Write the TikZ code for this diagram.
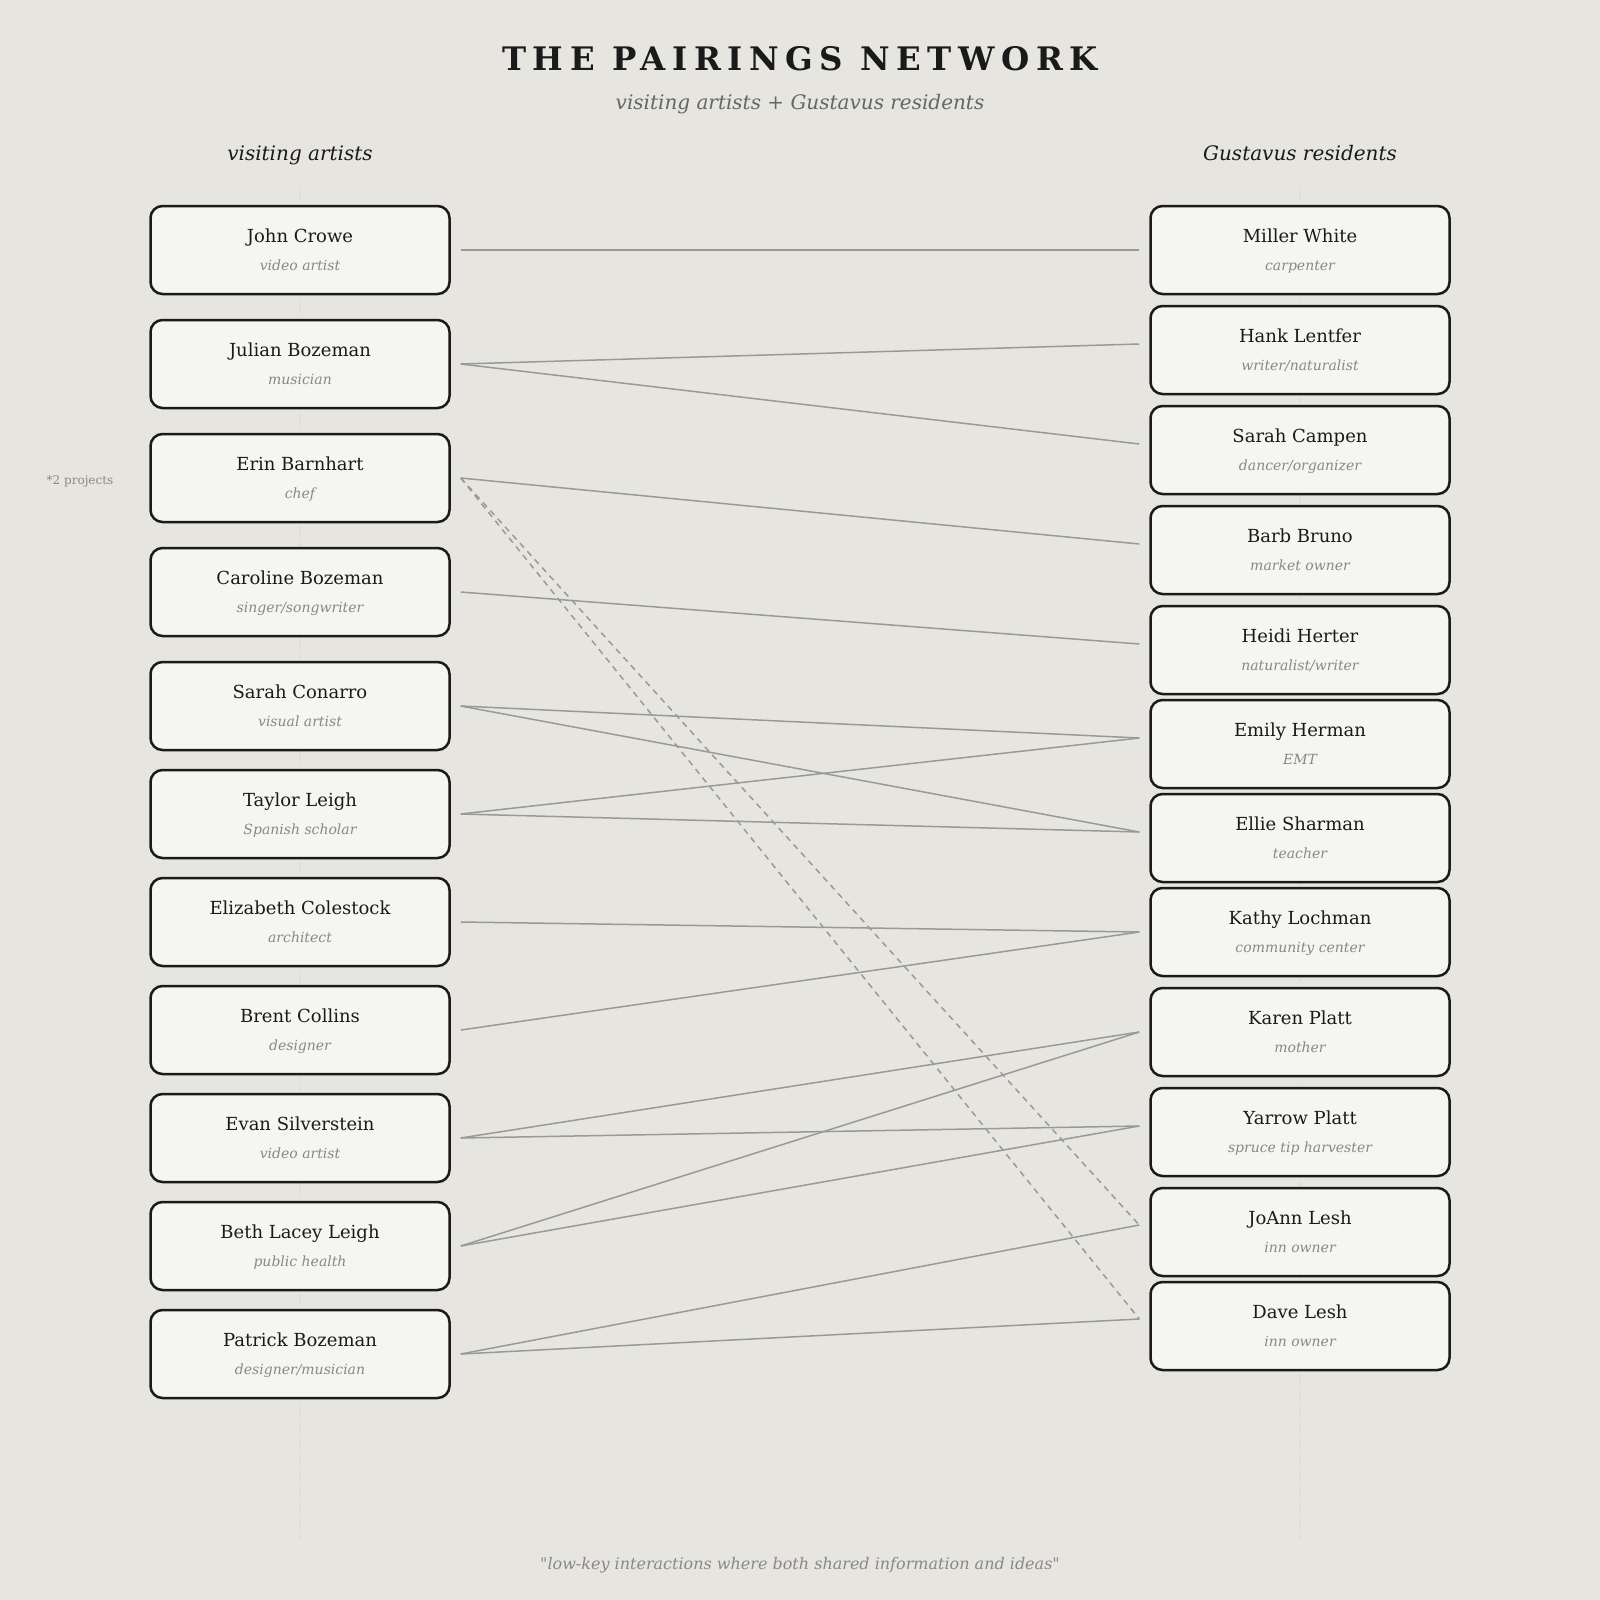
\documentclass[tikz,border=0pt]{standalone}
\usepackage{fontspec}
\setmainfont{DejaVu Serif}
\usetikzlibrary{calc}
\definecolor{bg}{HTML}{E6E5E0}
\definecolor{boxfill}{HTML}{F5F5F1}
\definecolor{ink}{HTML}{1A1A1A}
\definecolor{rolec}{HTML}{888888}
\definecolor{subc}{HTML}{666666}
\definecolor{linkc}{HTML}{999999}
\definecolor{guidec}{HTML}{DFDED9}
\tikzset{
  pbox/.style={draw=ink, line width=1.25pt, fill=boxfill, rounded corners=6pt,
    minimum width=149.5pt, minimum height=44pt, inner sep=0pt},
  pname/.style={anchor=base, text=ink, font=\fontsize{9}{11}\selectfont, inner sep=0pt},
  prole/.style={anchor=base, text=rolec, font=\fontsize{7}{8}\selectfont\itshape, inner sep=0pt},
  link/.style={draw=linkc, line width=0.75pt},
  dlink/.style={link, dash pattern=on 3pt off 2.5pt},
  guide/.style={draw=guidec, line width=1pt, dash pattern=on 4pt off 4pt},
  txt/.style={anchor=base, inner sep=0pt},
}
\newcommand\persona[5]{%
  \node[pbox] (#1) at (#2,#3) {};
  \node[pname] (#1-n) at (#2,#3-8) {#4};
  \node[prole] (#1-r) at (#2,#3+20) {#5};
}
\newcommand\lnk[4][link]{\draw[#1] ($(#2.east)+(10,0)$) -- ($(#3.west)+(-10,#4)$);}
\begin{document}
\begin{tikzpicture}[x=0.5pt,y=-0.5pt]
\fill[bg] (0,0) rectangle (1600,1600);
\useasboundingbox (0,0) rectangle (1600,1600);
% guides
\coordinate (gl-top) at (300,190);
\coordinate (gl-bot) at (300,1540);
\coordinate (gr-top) at (1300,190);
\coordinate (gr-bot) at (1300,1540);
\draw[guide] (gl-top) -- (gl-bot);
\draw[guide] (gr-top) -- (gr-bot);
% titles
\node[txt, text=ink, font=\fontsize{16.2}{19}\selectfont\bfseries\addfontfeature{LetterSpace=20}] (title) at (800,70.5) {THE PAIRINGS NETWORK};
\node[txt, text=subc, font=\fontsize{10}{12}\selectfont\itshape] (subtitle) at (800,110) {visiting artists + Gustavus residents};
\node[txt, text=ink, font=\fontsize{10}{12}\selectfont\itshape] (headl) at (300,161) {visiting artists};
\node[txt, text=ink, font=\fontsize{10}{12}\selectfont\itshape] (headr) at (1300,161) {Gustavus residents};
\node[txt, text=rolec, font=\fontsize{8}{9}\selectfont\itshape\addfontfeature{Ligatures=TeXOff}] (footer) at (800,1569) {"low-key interactions where both shared information and ideas"};
\node[txt, text=rolec, font=\fontsize{6}{7}\selectfont] (note) at (80,484) {*2 projects};
% left column
\persona{jc}{300}{250}{John Crowe}{video artist}
\persona{jb}{300}{364}{Julian Bozeman}{musician}
\persona{eb}{300}{478}{Erin Barnhart}{chef}
\persona{cb}{300}{592}{Caroline Bozeman}{singer/songwriter}
\persona{sc}{300}{706}{Sarah Conarro}{visual artist}
\persona{tl}{300}{814}{Taylor Leigh}{Spanish scholar}
\persona{ec}{300}{922}{Elizabeth Colestock}{architect}
\persona{bc}{300}{1030}{Brent Collins}{designer}
\persona{es}{300}{1138}{Evan Silverstein}{video artist}
\persona{bl}{300}{1246}{Beth Lacey Leigh}{public health}
\persona{pb}{300}{1354}{Patrick Bozeman}{designer/musician}
% right column
\persona{mw}{1300}{250}{Miller White}{carpenter}
\persona{hl}{1300}{350}{Hank Lentfer}{writer/naturalist}
\persona{sca}{1300}{450}{Sarah Campen}{dancer/organizer}
\persona{bb}{1300}{550}{Barb Bruno}{market owner}
\persona{hh}{1300}{650}{Heidi Herter}{naturalist/writer}
\persona{eh}{1300}{744}{Emily Herman}{EMT}
\persona{esh}{1300}{838}{Ellie Sharman}{teacher}
\persona{kl}{1300}{932}{Kathy Lochman}{community center}
\persona{kp}{1300}{1032}{Karen Platt}{mother}
\persona{yp}{1300}{1132}{Yarrow Platt}{spruce tip harvester}
\persona{jl}{1300}{1232}{JoAnn Lesh}{inn owner}
\persona{dl}{1300}{1326}{Dave Lesh}{inn owner}
% links
\lnk{jc}{mw}{0}
\lnk{jb}{hl}{-6}
\lnk{jb}{sca}{-6}
\lnk{eb}{bb}{-6}
\lnk[dlink]{eb}{jl}{-7}
\lnk[dlink]{eb}{dl}{-7}
\lnk{cb}{hh}{-6}
\lnk{sc}{eh}{-6}
\lnk{sc}{esh}{-6}
\lnk{tl}{eh}{-6}
\lnk{tl}{esh}{-6}
\lnk{ec}{kl}{0}
\lnk{bc}{kl}{0}
\lnk{es}{kp}{0}
\lnk{es}{yp}{-6}
\lnk{bl}{kp}{0}
\lnk{bl}{yp}{-6}
\lnk{pb}{jl}{-7}
\lnk{pb}{dl}{-7}
\end{tikzpicture}
\end{document}
